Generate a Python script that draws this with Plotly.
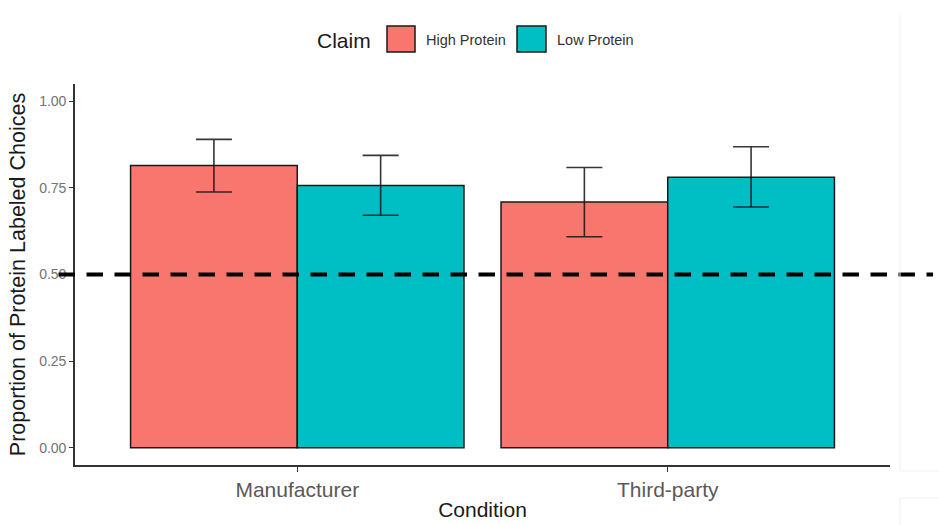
import plotly.graph_objects as go

# ---- data ----
conditions = ["Manufacturer", "Third-party"]
claims = ["High Protein", "Low Protein"]
high_mean = [0.815, 0.709]
high_upper = [0.890, 0.809]
high_lower = [0.738, 0.609]
low_mean = [0.757, 0.781]
low_upper = [0.844, 0.869]
low_lower = [0.671, 0.695]
y_ticks = [0.0, 0.25, 0.5, 0.75, 1.0]
y_ticklabels = ["0.00", "0.25", "0.50", "0.75", "1.00"]
reference_line = 0.5

colors = ["#F8766D", "#00BFC4"]
FONT = "Liberation Sans, Arial, sans-serif"

W, H = 939, 525
L, R, T, B = 75, 890, 84, 465  # plot area in pixels
Y_RANGE = [-0.05, 1.05]


def px(x):
    return (x - L) / (R - L)


def py(y):
    return (B - y) / (B - T)


fig = go.Figure()
series = [(high_mean, high_upper, high_lower), (low_mean, low_upper, low_lower)]
for name, col, (m, up, lo) in zip(claims, colors, series):
    fig.add_trace(go.Bar(
        x=conditions, y=m, name=name,
        marker=dict(color=col, line=dict(color="#1a1a1a", width=1.5)),
        error_y=dict(type="data", symmetric=False,
                     array=[u - v for u, v in zip(up, m)],
                     arrayminus=[v - l for v, l in zip(m, lo)],
                     color="rgba(20,20,20,0.85)", thickness=1.6, width=18),
        showlegend=False,
    ))

ref_paper = (reference_line - Y_RANGE[0]) / (Y_RANGE[1] - Y_RANGE[0])
shapes = [
    dict(type="line", xref="paper", yref="paper", x0=px(58.5), x1=px(933),
         y0=ref_paper, y1=ref_paper,
         line=dict(color="black", width=3.8, dash="16.5px,11.5px"), layer="above"),
    # faint frame remnants at right
    dict(type="line", xref="paper", yref="paper", x0=px(900), x1=px(900), y0=py(15), y1=py(471),
         line=dict(color="#efefef", width=1)),
    dict(type="line", xref="paper", yref="paper", x0=px(900), x1=px(945), y0=py(471), y1=py(471),
         line=dict(color="#efefef", width=1)),
    dict(type="line", xref="paper", yref="paper", x0=px(900), x1=px(900), y0=py(498), y1=py(530),
         line=dict(color="#efefef", width=1)),
    dict(type="line", xref="paper", yref="paper", x0=px(900), x1=px(945), y0=py(498), y1=py(498),
         line=dict(color="#efefef", width=1)),
]

# manual legend
legend_boxes = [(387, 415), (517, 546)]
legend_text_x = [424, 555]
annotations = [
    dict(text="Claim", xref="paper", yref="paper", x=px(373), y=py(41), xanchor="right",
         yanchor="middle", showarrow=False, font=dict(family=FONT, size=21, color="#1a1a1a")),
]
for (x0, x1), tx, col, name in zip(legend_boxes, legend_text_x, colors, claims):
    shapes.append(dict(type="rect", xref="paper", yref="paper", x0=px(x0), x1=px(x1),
                       y0=py(52), y1=py(26), fillcolor=col,
                       line=dict(color="#1a1a1a", width=1.5)))
    annotations.append(dict(text=name, xref="paper", yref="paper", x=px(tx), y=py(40),
                            xanchor="left", yanchor="middle", showarrow=False,
                            font=dict(family=FONT, size=14.5, color="#333333")))

fig.update_layout(
    width=W, height=H,
    margin=dict(l=L, r=W - R, t=T, b=H - B, pad=0),
    paper_bgcolor="white", plot_bgcolor="white",
    barmode="group", bargap=0.1, bargroupgap=0,
    font=dict(family=FONT),
    shapes=shapes, annotations=annotations,
    xaxis=dict(range=[-0.6, 1.6], showline=True, linecolor="#333333", linewidth=1.6,
               ticks="outside", ticklen=5, tickcolor="#333333", tickwidth=1.2,
               tickfont=dict(family=FONT, size=21, color="#595959"),
               title=dict(text="Condition", font=dict(family=FONT, size=21, color="#1a1a1a"),
                          standoff=2),
               showgrid=False, zeroline=False, automargin=False),
    yaxis=dict(range=Y_RANGE, showline=True, linecolor="#333333", linewidth=1.6,
               ticks="outside", ticklen=4, tickcolor="#333333", tickwidth=1.2,
               tickvals=y_ticks, ticktext=y_ticklabels,
               tickfont=dict(family=FONT, size=14, color="#737373"),
               title=dict(text="Proportion of Protein Labeled Choices",
                          font=dict(family=FONT, size=21.5, color="#1a1a1a"), standoff=8),
               showgrid=False, zeroline=False, automargin=False),
)

fig.write_html("out.html")
